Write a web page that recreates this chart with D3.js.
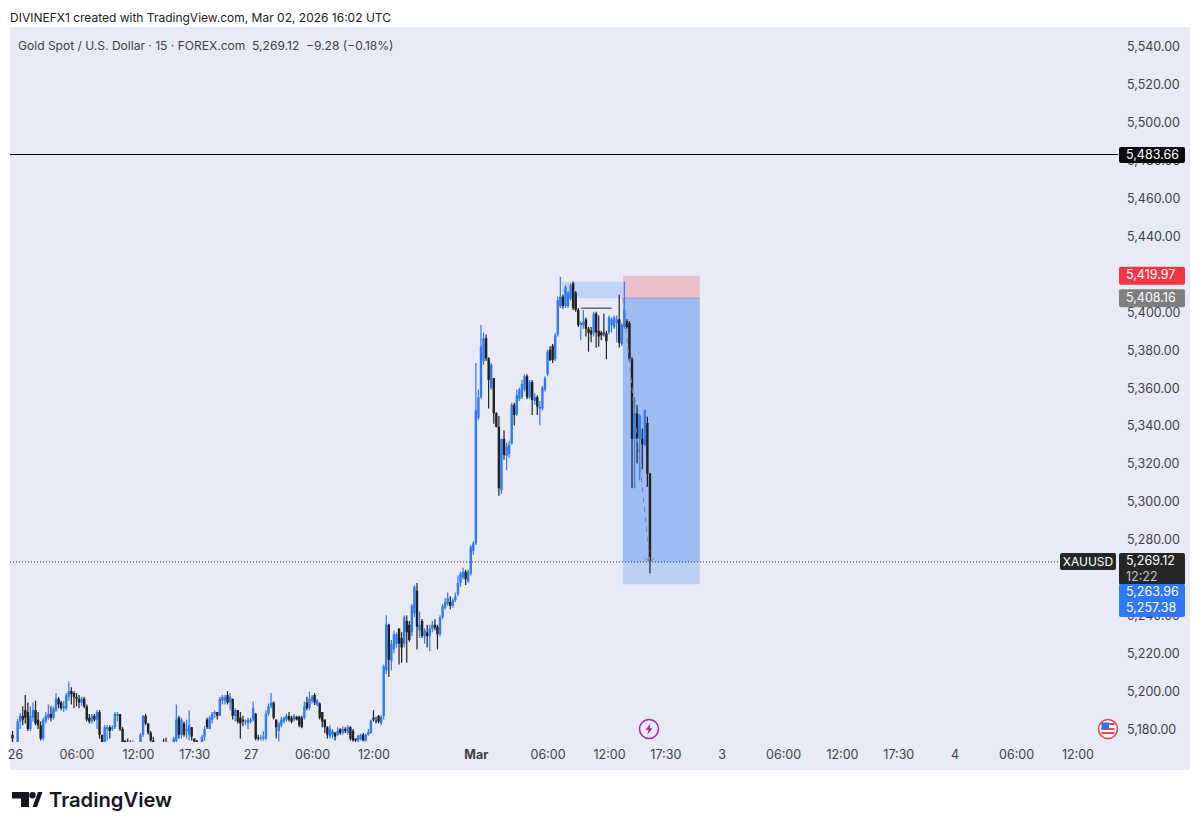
<!DOCTYPE html>
<html lang="en">
<head>
	<meta charset="utf-8">
	<script src="https://d3js.org/d3.v7.min.js"></script>
	<style type="text/css">
		html, body { margin: 0; padding: 0; background: #fff; }
		svg { display: block; }
		text { font-family: Inter, "Noto Sans", sans-serif; }
		.domain { display: none; }
		.price-axis text, .time-axis text { font-size: 12.5px; fill: #3d3f45; }
		.tag { font-size: 12.5px; }
	</style>
</head>
<body>
	<script type="text/javascript">
	var width = 1200;
	var height = 830;

	// candles as [open, high, low, close], 15 minute bars
	var feb26Bars = [
		[5178,5180,5172,5176],[5172,5174,5168,5170],[5170,5186.5,5168,5185],[5185,5189.5,5181,5188],[5188,5193,5183,5186],
		[5191,5199,5184,5187],[5190,5195,5180,5181],[5181,5193,5180,5188],[5187,5195,5185,5191],[5191,5196,5183,5184],
		[5186,5190,5181,5183],[5183,5185,5175,5176],[5176,5187,5175,5186],[5185,5190,5184,5188],[5187,5194,5186,5189],
		[5189,5193,5185,5187],[5187,5193,5186,5192],[5191,5200,5190,5197],[5197,5198,5192,5194],[5195,5196,5191,5192],
		[5192,5196,5190,5193],[5192,5200,5191,5199],[5198,5206,5196,5201],[5201,5203,5194,5199.5],[5200,5201,5192,5198],
		[5198,5200,5193,5197],[5197,5199,5192,5195],[5195,5198,5193,5197],[5197,5198,5192,5193],[5193,5194,5185,5186],
		[5187,5189,5184,5185],[5185,5189,5184,5188],[5188,5189,5185,5186],[5186,5191,5181,5190],[5190,5191,5176,5178],
		[5178,5178,5172,5174],[5174,5183,5173,5182],[5181,5183,5175,5182],[5182,5183,5176,5180],[5181,5183,5180,5182],
		[5182,5190,5181,5189],[5188,5190,5185,5189],[5189,5189,5180,5181],[5181,5182,5172,5174],[5175,5175,5171,5174],
		[5174,5176,5172,5173],[5174,5175,5170,5173],[5173,5175,5170,5174],[5174,5174,5171,5172],[5168,5172,5165,5170],
		[5170,5179,5168,5178],[5178,5188.5,5177,5188],[5188,5189,5183,5184],[5184,5184,5178,5179],[5179,5180,5174,5175],
		[5175,5177,5172,5174],[5172,5173,5168,5170],[5170,5172,5168,5169],[5169,5172,5167,5170],[5172,5176,5168,5171],
		[5172,5176.5,5170,5171],[5170,5172,5168,5169],[5169,5172,5167,5170],[5172,5177,5170,5176],[5175,5194,5173,5186],
		[5187,5188,5176,5178],[5178,5187,5176,5186],[5184,5185,5177,5178],[5180,5186,5176,5181],[5178,5191,5175,5183],
		[5182,5182,5175,5177],[5176,5176,5173,5174.5],[5175,5175,5172,5174],[5172,5173,5170,5171],[5172,5178,5170,5177],
		[5177,5182.5,5175,5181],[5186,5187,5181,5182],[5181,5188,5181,5187],[5186,5190,5184,5189],[5189,5191,5187,5190],
		[5190,5190,5186,5188],[5188,5198,5188,5197],[5196,5199,5194,5198],[5196,5199,5194,5198],[5199,5201,5194,5195],
		[5195,5200,5191,5198],[5197,5197,5186,5188],[5188,5192,5185,5191],[5191,5191,5184,5185],[5187,5190,5176,5184],
		[5186,5188,5182.5,5185],[5185,5186,5183,5185.5],[5184,5187,5181,5186]
	];
	var feb27Bars = [
		[5185,5187,5184,5186],[5186,5195.5,5185,5192],[5189,5189.5,5175,5176],[5176.5,5178,5175,5176],[5176,5178,5175,5176.5],
		[5176,5180,5175,5177],[5176,5191,5175,5189],[5189,5194.5,5188,5193],[5193,5200,5192,5195],[5195,5195.5,5186,5187],
		[5186,5186,5176,5182],[5180,5185,5174.5,5184],[5183,5187.5,5182,5186],[5185,5187.5,5184,5187],[5186,5189,5185,5188],
		[5188,5190,5185,5186],[5187,5188,5184,5185],[5186,5189,5185,5188],[5187.5,5188,5185.5,5186],[5187.5,5188,5182,5183],
		[5187,5188,5181.5,5182],[5187,5195.5,5186,5193],[5195,5198,5191,5192],[5192,5200.7,5191,5197],[5196,5199,5194.5,5198],
		[5199,5200,5193.7,5195],[5194,5197,5193,5196],[5194.5,5195,5186,5187],[5190,5190,5182,5185],[5186,5186,5179,5182],
		[5182,5182.5,5176,5178],[5177,5183,5176,5181],[5178,5181,5176,5180],[5179,5179.5,5175,5177],[5178,5182,5177.5,5180],
		[5181,5181.5,5178,5179],[5179,5182.5,5178,5181],[5181,5182,5179,5180],[5179,5183,5178,5182],[5182,5182.5,5175,5176],
		[5180,5181,5174.5,5175],[5176,5176,5174,5175],[5175,5178,5174,5177.5],[5175.5,5178.5,5175,5178],[5178,5179,5174.5,5175],
		[5175,5178.5,5174.5,5178],[5178,5181,5177.5,5179.5],[5179,5186,5178.5,5185.5],[5187,5191,5185,5186],[5185.5,5187.5,5184,5185],
		[5188,5188.5,5184,5185],[5184,5188.5,5183,5187.5],[5188,5215,5186,5214],[5212,5241,5210,5236],[5236,5236.5,5208.5,5217.5],
		[5217,5228,5212,5226],[5223,5233,5221,5231],[5226,5232,5224,5231],[5234,5234,5215,5226],[5229,5232,5216,5224],
		[5226,5241,5224,5240],[5238,5241,5216,5232],[5236,5238,5227,5228],[5232,5247,5230,5246],[5242,5257,5240,5256],
		[5254,5258,5223,5235],[5233,5243,5229,5236],[5238,5239,5229,5230],[5230,5234,5226,5233],[5232,5236,5224,5230],
		[5230,5236,5222,5234],[5234,5238,5232,5236],[5236,5239,5233,5234.5],[5235,5236,5223,5231],[5231,5241,5230,5240],
		[5240,5247,5239,5246],[5245,5250,5244,5248],[5247,5253,5246,5250],[5248,5251,5244,5246],[5246,5250,5245,5249],
		[5249,5253,5248,5251],[5252,5262,5251,5258],[5258,5264,5256,5263],[5261,5266,5260,5264],[5264,5265,5257,5260],
		[5259,5265,5258,5264],[5263,5278,5262,5277],[5275,5280,5273,5279]
	];
	var mar02Bars = [
		[5279,5374,5278,5349],[5345,5360,5344,5356],[5356,5394,5355,5382.6],[5375,5390,5373,5387],[5387,5389,5375,5376.4],
		[5376.5,5377,5350,5365],[5361,5374,5360,5373],[5366,5366,5342,5347.5],[5347.5,5348,5340,5340.4],[5340.4,5346,5304,5308],
		[5307,5334,5305,5334],[5334,5338.6,5323,5325.5],[5325,5332,5317.6,5330],[5326,5333,5324,5331],[5331.6,5353,5331,5352],
		[5352,5353,5341,5346.6],[5347,5360,5346,5357],[5355,5361,5354,5360],[5356,5365,5355,5363],[5360,5368,5359,5367],
		[5367,5368,5355,5356],[5356,5365,5355,5364],[5364,5365,5346.6,5354.5],[5354,5358,5352,5356],[5356,5357,5346.6,5351],
		[5350,5354,5341,5351],[5350,5362,5349,5361],[5360,5367,5359,5366],[5368,5381,5367,5380],[5381,5383,5375,5375.5],
		[5383,5384,5374,5375.5],[5376,5390,5375,5388.7],[5389,5409,5388,5407],[5404,5419.5,5403,5409],[5409,5410,5402.6,5404],
		[5404,5415,5403,5414],[5404,5412,5403,5411],[5408,5416,5407,5415],[5416,5417,5402,5403],[5411,5412,5401,5402],
		[5402,5403,5393,5394],[5394,5396,5386,5395],[5394,5402,5392,5395.5],[5397,5398,5388,5392],[5392,5393,5380,5390],
		[5391,5393,5385,5389],[5390,5401,5388,5400],[5400,5401,5382,5390],[5391,5399,5382.6,5388],[5390,5391,5386,5388.6],
		[5390,5400,5388,5389.6],[5389.6,5391,5376,5385.5],[5390,5399,5389,5398],[5394,5398,5390,5397],[5393,5399,5392,5398],
		[5395,5399,5385,5397],[5397,5410,5382.2,5384.6],[5384,5395,5383,5394],[5393,5417,5392,5402],[5396,5397,5392,5393],
		[5395,5396,5375,5376],[5376,5377,5308,5334],[5334,5356,5308,5347.4],[5347.4,5351.8,5321,5334],[5334,5347,5312,5346.5],
		[5334,5339.5,5318,5331],[5331,5349.5,5330,5349],[5342.4,5345.6,5308.7,5315.7],[5315.7,5316,5263,5269.12]
	];

	// price axis (5,260 and 5,420 sit fully behind the tags in the picture)
	var priceTicks = [5180,5200,5220,5240,5280,5300,5320,5340,5360,5380,5400,5440,5460,5480,5500,5520,5540];

	// time axis, position in bars from the first candle
	var timeTickBars = [1,25,49,71,93,117,141,181,209,233,255,277,301,324,346,368,392,416];
	var timeTickLabels = ["26","06:00","12:00","17:30","27","06:00","12:00","Mar","06:00","12:00","17:30","3","06:00","12:00","17:30","4","06:00","12:00"];

	// price lines and their tags
	var closePrice = 5269.12;
	var linePrice = 5483.66;
	var stopPrice = 5419.97;
	var entryPrice = 5408.16;
	var targetPrice = 5257.38;
	var targetPriceB = 5263.96;

	// the position tool and the small zone to its left, in bars / price
	var positionBars = [238.4, 268.5];
	var zoneBars = [214.6, 238.4];
	var zonePrices = [5408.16, 5416.8];
	var tickLineBars = [222, 234];
	var tickLinePrice = 5402.9;
	var projectionBars = [238.4, 249];

	var bars = feb26Bars.concat(feb27Bars, mar02Bars);

	var x = d3.scaleLinear().domain([0, 416]).range([12.5, 12.5 + 416 * 2.56]);
	var y = d3.scaleLinear().domain([5180, 5540]).range([731, 48.1]);

	var fmt = d3.format(",.2f");

	var svg = d3.select("body").append("svg")
		.attr("width", width)
		.attr("height", height);

	// header
	svg.append("text").attr("x", 10).attr("y", 22)
		.attr("font-size", 12).attr("fill", "#222")
		.text("DIVINEFX1 created with TradingView.com, Mar 02, 2026 16:02 UTC");

	// pane
	svg.append("rect").attr("x", 10).attr("y", 27).attr("width", 1180).attr("height", 743)
		.attr("fill", "#e8ebf6");

	svg.append("text").attr("x", 18).attr("y", 50)
		.attr("font-size", 12.05).attr("fill", "#3d3f45")
		.attr("xml:space", "preserve")
		.text("Gold Spot / U.S. Dollar \u00b7 15 \u00b7 FOREX.com  5,269.12  \u22129.28 (\u22120.18%)");

	svg.append("defs").append("clipPath").attr("id", "pane")
		.append("rect").attr("x", 10).attr("y", 27).attr("width", 1108).attr("height", 715);

	// axes
	var priceAxis = d3.axisRight(y).tickValues(priceTicks).tickSize(0)
		.tickFormat(function(d) { return fmt(d); });
	svg.append("g").attr("class", "price-axis")
		.attr("transform", "translate(1124,-1.5)")
		.call(priceAxis);

	var timeAxis = d3.axisBottom(x).tickValues(timeTickBars).tickSize(0)
		.tickFormat(function(d, i) { return timeTickLabels[i]; });
	var timeG = svg.append("g").attr("class", "time-axis")
		.attr("transform", "translate(0,747)")
		.call(timeAxis);
	timeG.selectAll("text").style("font-weight", function(d, i) {
		return timeTickLabels[i] == "Mar" ? 700 : 400;
	});

	var chart = svg.append("g").attr("clip-path", "url(#pane)");

	// position tool
	var posX = x(positionBars[0]);
	var posW = x(positionBars[1]) - posX;
	chart.append("rect").attr("x", posX).attr("width", posW)
		.attr("y", y(stopPrice)).attr("height", y(entryPrice) - y(stopPrice))
		.attr("fill", "#ebc0cb");
	chart.append("rect").attr("x", posX).attr("width", posW)
		.attr("y", y(closePrice)).attr("height", y(targetPrice) - y(closePrice))
		.attr("fill", "#bcd0f4");
	chart.append("rect").attr("x", posX).attr("width", posW)
		.attr("y", y(entryPrice)).attr("height", y(closePrice) - y(entryPrice))
		.attr("fill", "#9dbcf4");
	chart.append("line").attr("x1", posX).attr("x2", posX + posW)
		.attr("y1", y(entryPrice)).attr("y2", y(entryPrice))
		.attr("stroke", "#8f9cb8").attr("stroke-width", 1);

	chart.append("rect").attr("x", x(zoneBars[0])).attr("width", x(zoneBars[1]) - x(zoneBars[0]))
		.attr("y", y(zonePrices[1])).attr("height", y(zonePrices[0]) - y(zonePrices[1]))
		.attr("fill", "#c3d3f5");

	// long horizontal line and last price line
	chart.append("line").attr("x1", 10).attr("x2", 1118)
		.attr("y1", y(linePrice)).attr("y2", y(linePrice))
		.attr("stroke", "#000").attr("stroke-width", 1).attr("shape-rendering", "crispEdges");
	svg.append("line").attr("x1", 10).attr("x2", 1060)
		.attr("y1", y(closePrice)).attr("y2", y(closePrice))
		.attr("stroke", "#333").attr("stroke-width", 1).attr("stroke-dasharray", "1 2");

	// candles
	var upColor = "#3079ee";
	var downColor = "#202020";
	var candle = chart.selectAll("g.candle")
		.data(bars)
		.enter()
		.append("g")
		.attr("class", "candle");

	candle.append("line")
		.attr("x1", function(d, i) { return x(i); })
		.attr("x2", function(d, i) { return x(i); })
		.attr("y1", function(d) { return y(d[1]); })
		.attr("y2", function(d) { return y(d[2]); })
		.attr("stroke-width", 1.2)
		.attr("stroke", function(d) { return d[3] >= d[0] ? upColor : downColor; });

	candle.append("rect")
		.attr("x", function(d, i) { return x(i) - 1.2; })
		.attr("width", 2.4)
		.attr("y", function(d) { return y(Math.max(d[0], d[3])); })
		.attr("height", function(d) { return Math.max(1, Math.abs(y(d[0]) - y(d[3]))); })
		.attr("fill", function(d) { return d[3] >= d[0] ? upColor : downColor; });

	// small line over the range
	chart.append("line").attr("x1", x(tickLineBars[0])).attr("x2", x(tickLineBars[1]))
		.attr("y1", y(tickLinePrice)).attr("y2", y(tickLinePrice))
		.attr("stroke", "#222").attr("stroke-width", 1);

	// projection from entry to last price, with arrow head
	var px0 = x(projectionBars[0]), py0 = y(entryPrice);
	var px1 = x(projectionBars[1]), py1 = y(closePrice);
	chart.append("line").attr("x1", px0).attr("y1", py0).attr("x2", px1).attr("y2", py1)
		.attr("stroke", "#7f8797").attr("stroke-width", 1).attr("stroke-dasharray", "5 5");
	chart.append("path")
		.attr("d", "M" + (px1 - 5) + "," + (py1 - 4) + "L" + px1 + "," + py1 + "L" + (px1 + 5) + "," + (py1 - 4))
		.attr("fill", "none").attr("stroke", "#7f8797").attr("stroke-width", 1);

	// price tags on the right
	function tag(yTop, h, color, textColor, lines) {
		svg.append("rect").attr("x", 1119).attr("y", yTop).attr("width", 66).attr("height", h)
			.attr("rx", 2).attr("fill", color);
		lines.forEach(function(l, i) {
			svg.append("text").attr("class", "tag")
				.attr("x", 1126).attr("y", yTop + 12.5 + i * 16)
				.attr("fill", i == 1 && color == "#262626" ? "#c4c4c4" : textColor)
				.text(l);
		});
	}
	tag(y(linePrice) - 8, 16, "#0c0c0c", "#fff", [fmt(linePrice)]);
	tag(y(stopPrice) - 9, 18, "#f23645", "#fff", [fmt(stopPrice)]);
	tag(y(entryPrice) - 9, 18, "#7f7f7f", "#fff", [fmt(entryPrice)]);
	tag(y(closePrice) - 9, 32, "#262626", "#fff", [fmt(closePrice), "12:22"]);
	tag(y(closePrice) + 22, 33, "#2f78f2", "#fff", [fmt(targetPriceB), fmt(targetPrice)]);

	svg.append("rect").attr("x", 1060).attr("y", y(closePrice) - 9).attr("width", 56).attr("height", 17)
		.attr("rx", 2).attr("fill", "#262626");
	svg.append("text").attr("class", "tag").attr("x", 1088).attr("y", y(closePrice) + 4)
		.attr("text-anchor", "middle").attr("fill", "#fff").attr("font-size", 12).style("font-size", "12px").text("XAUUSD");

	// event icons
	var bolt = svg.append("g").attr("transform", "translate(649,729)");
	bolt.append("circle").attr("r", 9.5).attr("fill", "none").attr("stroke", "#9c27b0").attr("stroke-width", 1.5);
	bolt.append("path").attr("d", "M1.5,-5.5L-3.5,0.8L-0.5,0.8L-1.5,5.5L3.5,-0.8L0.5,-0.8Z").attr("fill", "#9c27b0");

	var flag = svg.append("g").attr("transform", "translate(1108,729)");
	flag.append("circle").attr("r", 9.5).attr("fill", "#fff").attr("stroke", "#e5484d").attr("stroke-width", 1.6);
	flag.append("rect").attr("x", -6.5).attr("y", -6).attr("width", 13).attr("height", 2).attr("fill", "#e5484d");
	flag.append("rect").attr("x", -6.5).attr("y", -1).attr("width", 13).attr("height", 2).attr("fill", "#e5484d");
	flag.append("rect").attr("x", -6.5).attr("y", 3).attr("width", 13).attr("height", 2).attr("fill", "#e5484d");
	flag.append("rect").attr("x", -6.5).attr("y", -6.5).attr("width", 7.5).attr("height", 7).attr("fill", "#3f6fd8");

	// logo
	var logo = svg.append("g").attr("transform", "translate(12,792)").attr("fill", "#131722");
	logo.append("path").attr("d", "M0,0H17V15H9V6.5H0Z");
	logo.append("circle").attr("cx", 20.5).attr("cy", 3.2).attr("r", 3.2);
	logo.append("path").attr("d", "M20.5,15L26,0H30.5L25,15Z");
	svg.append("text").attr("x", 49).attr("y", 807)
		.attr("font-size", 20.2).attr("font-weight", 600).attr("fill", "#131722")
		.text("TradingView");
	</script>
</body>
</html>
